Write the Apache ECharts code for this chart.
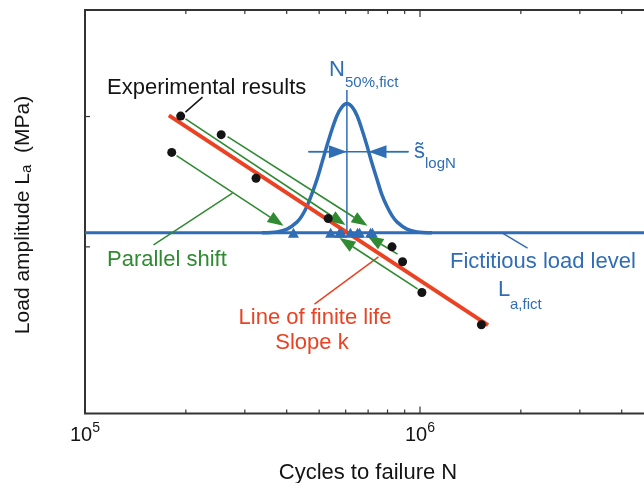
<!DOCTYPE html>
<html>
<head>
<meta charset="utf-8">
<script src="https://cdn.jsdelivr.net/npm/echarts@6/dist/echarts.min.js"></script>
<style>
  html, body { margin: 0; padding: 0; background: #fff; }
  #chart { width: 644px; height: 483px; }
</style>
</head>
<body>
<div id="chart"></div>
<script>
// experimental results (cycles to failure, load amplitude in arbitrary units)
const expCycles = [193000, 255000, 181500, 324000, 532000, 825000, 887000, 1013000, 1525000];
const expLoad = [73.7, 69.1, 64.7, 58.3, 48.3, 41.3, 37.6, 30.0, 22.0];

// results shifted onto the fictitious load level
const shiftedCycles = [419000, 541000, 575000, 583000, 620000, 651000, 660000, 712000, 721000];
const fictLoad = 44.8;

// line of finite life
const finiteCycles = [178000, 1596000];
const finiteLoad = [73.9, 21.9];

// distribution of log N on the fictitious level
const densityCycles = [337000, 374000, 401000, 430000, 445000, 460000, 475000, 492000, 509000, 527000, 546000, 565000, 585000, 605000,
  627000, 649000, 671000, 695000, 719000, 745000, 769000, 796000, 824000, 853000, 914000, 980000, 1086000];
const densityLoad = [44.8, 45.0, 45.7, 47.5, 49.1, 51.4, 54.3, 57.9, 62.0, 66.3, 70.4, 73.8, 76.0, 76.8,
  76.0, 73.8, 70.4, 66.3, 62.0, 57.9, 54.3, 51.4, 49.1, 47.5, 45.7, 45.0, 44.8];
const n50Cycles = 605000;
const n50Top = 80.2;

// scatter width marker
const sigmaLoad = 64.9;
const sigmaTailCycles = [464500, 924000];
const sigmaTipCycles = [605000, 702000];

// parallel shift arrows
const shiftFromCycles = [199500, 266400, 187600, 857000, 983000];
const shiftFromLoad = [73.0, 68.6, 63.9, 39.5, 30.9];
const shiftToCycles = [599200, 697000, 391300, 697000, 575000];
const shiftToLoad = [46.7, 46.5, 46.5, 44.0, 43.5];

// leader lines
const leaderExp = [[224300, 78.4], [199500, 74.7]];
const leaderShift = [[160200, 41.8], [275600, 54.6]];
const leaderFinite = [[484200, 27.1], [751600, 38.8]];
const leaderFict = [[1763000, 44.7], [2094000, 41.0]];

// ticks
const xMajorTicks = [100000, 1000000];
const xMinorTicks = [200000, 300000, 400000, 500000, 600000, 700000, 800000, 900000,
  2000000, 3000000, 4000000, 5000000, 6000000, 7000000, 8000000, 9000000];
const yTicks = [41.3, 73.6];

const FONT = '"Liberation Sans", Arial, sans-serif';
const BLUE = '#2f6db5';
const GREEN = '#2f8a32';
const RED = '#ea4222';
const INK = '#141414';
const FRAME = '#333333';

function zip(xs, ys) {
  return xs.map((x, i) => [x, ys[i]]);
}

function arrowSeries(name, fromX, fromY, toX, toY, color, headLen, headW, lw) {
  return {
    type: 'custom',
    name: name,
    silent: true,
    z: 4,
    data: fromX.map((x, i) => [x, fromY[i], toX[i], toY[i]]),
    encode: { x: [0, 2], y: [1, 3] },
    renderItem: function (params, api) {
      const a = api.coord([api.value(0), api.value(1)]);
      const b = api.coord([api.value(2), api.value(3)]);
      const dx = b[0] - a[0];
      const dy = b[1] - a[1];
      const len = Math.hypot(dx, dy);
      const ux = dx / len;
      const uy = dy / len;
      const bx = b[0] - ux * headLen;
      const by = b[1] - uy * headLen;
      return {
        type: 'group',
        children: [
          { type: 'line', shape: { x1: a[0], y1: a[1], x2: bx, y2: by }, style: { stroke: color, lineWidth: lw } },
          {
            type: 'polygon',
            shape: { points: [[b[0], b[1]], [bx - uy * headW / 2, by + ux * headW / 2], [bx + uy * headW / 2, by - ux * headW / 2]] },
            style: { fill: color }
          }
        ]
      };
    }
  };
}

function segment(name, pts, color, width) {
  return {
    type: 'line', name: name, data: pts, symbol: 'none', silent: true, z: 3,
    lineStyle: { color: color, width: width }
  };
}

const chart = echarts.init(document.getElementById('chart'));

const option = {
  animation: false,
  backgroundColor: '#fff',
  grid: {
    left: 85, top: 10, width: 670, bottom: 69.5,
    outerBoundsMode: 'none', containLabel: false,
    show: true, borderColor: FRAME, borderWidth: 2, backgroundColor: 'transparent'
  },
  xAxis: {
    type: 'log', logBase: 10, min: 100000, max: 10000000,
    axisLine: { show: false },
    axisTick: { show: false },
    splitLine: { show: false },
    axisLabel: {
      margin: 8,
      formatter: function (v) { return '{b|10}{s|' + Math.round(Math.log10(v)) + '}'; },
      rich: {
        b: { fontFamily: FONT, fontSize: 20, color: INK, lineHeight: 24, verticalAlign: 'bottom' },
        s: { fontFamily: FONT, fontSize: 14, color: INK, lineHeight: 14, verticalAlign: 'top' }
      }
    }
  },
  yAxis: {
    type: 'value', min: 0, max: 100,
    axisLine: { show: false },
    axisTick: { show: false },
    axisLabel: { show: false },
    splitLine: { show: false }
  },
  series: [
    segment('Fictitious load level', [[100000, fictLoad], [10000000, fictLoad]], BLUE, 3),
    {
      type: 'line', name: 'density', data: zip(densityCycles, densityLoad), smooth: 0.3,
      symbol: 'none', silent: true, z: 3, lineStyle: { color: BLUE, width: 3.5 }
    },
    segment('N50', [[n50Cycles, n50Top], [n50Cycles, fictLoad]], BLUE, 1.5),
    segment('sigma', [[sigmaTailCycles[0], sigmaLoad], [sigmaTailCycles[1], sigmaLoad]], BLUE, 1.5),
    {
      type: 'line', name: 'Line of finite life', data: zip(finiteCycles, finiteLoad),
      symbol: 'none', silent: true, z: 3, lineStyle: { color: RED, width: 4 }
    },
    arrowSeries('Parallel shift', shiftFromCycles, shiftFromLoad, shiftToCycles, shiftToLoad, GREEN, 16, 12, 1.6),
    arrowSeries('sigma arrows', sigmaTailCycles, [sigmaLoad, sigmaLoad], sigmaTipCycles, [sigmaLoad, sigmaLoad], BLUE, 18, 13, 1.5),
    segment('leader exp', leaderExp, INK, 1.5),
    segment('leader shift', leaderShift, GREEN, 1.5),
    segment('leader finite', leaderFinite, RED, 1.5),
    segment('leader fict', leaderFict, BLUE, 1.5),
    {
      type: 'scatter', name: 'Experimental results', data: zip(expCycles, expLoad),
      symbol: 'circle', symbolSize: 9, silent: true, z: 6,
      itemStyle: { color: INK, opacity: 1 }
    },
    {
      type: 'scatter', name: 'Shifted', data: shiftedCycles.map(c => [c, fictLoad]),
      symbol: 'triangle', symbolSize: [11, 10], silent: true, z: 7,
      itemStyle: { color: BLUE, opacity: 1 }
    },
    {
      type: 'custom', name: 'x ticks', silent: true, z: 8,
      data: xMinorTicks.map(v => [v, 0, 4]).concat(xMajorTicks.map(v => [v, 0, 7])),
      encode: { x: 0, y: 1 },
      renderItem: function (params, api) {
        const cs = params.coordSys;
        const x = api.coord([api.value(0), 50])[0];
        const len = api.value(2);
        const yb = cs.y + cs.height;
        return {
          type: 'group',
          children: [
            { type: 'line', shape: { x1: x, y1: yb, x2: x, y2: yb - len }, style: { stroke: FRAME, lineWidth: 1.2 } },
            { type: 'line', shape: { x1: x, y1: cs.y, x2: x, y2: cs.y + len }, style: { stroke: FRAME, lineWidth: 1.2 } }
          ]
        };
      }
    },
    {
      type: 'custom', name: 'y ticks', silent: true, z: 8,
      data: yTicks.map(v => [100000, v]),
      encode: { x: 0, y: 1 },
      renderItem: function (params, api) {
        const cs = params.coordSys;
        const y = api.coord([1000000, api.value(1)])[1];
        return { type: 'line', shape: { x1: cs.x, y1: y, x2: cs.x + 5, y2: y }, style: { stroke: FRAME, lineWidth: 1.2 } };
      }
    }
  ],
  graphic: [
    { type: 'text', x: 107, y: 88, style: { text: 'Experimental results', font: '22px ' + FONT, fill: INK, align: 'left', verticalAlign: 'middle' } },
    { type: 'text', x: 329, y: 70, style: { text: 'N', font: '22px ' + FONT, fill: BLUE, align: 'left', verticalAlign: 'middle' } },
    { type: 'text', x: 345, y: 83, style: { text: '50%,fict', font: '15px ' + FONT, fill: BLUE, align: 'left', verticalAlign: 'middle' } },
    { type: 'text', x: 414, y: 152, style: { text: 's\u0303', font: '22px ' + FONT, fill: BLUE, align: 'left', verticalAlign: 'middle' } },
    { type: 'text', x: 425, y: 164, style: { text: 'logN', font: '15px ' + FONT, fill: BLUE, align: 'left', verticalAlign: 'middle' } },
    { type: 'text', x: 107, y: 260, style: { text: 'Parallel shift', font: '22px ' + FONT, fill: GREEN, align: 'left', verticalAlign: 'middle' } },
    { type: 'text', x: 450, y: 262, style: { text: 'Fictitious load level', font: '22px ' + FONT, fill: BLUE, align: 'left', verticalAlign: 'middle' } },
    { type: 'text', x: 498, y: 290, style: { text: 'L', font: '22px ' + FONT, fill: BLUE, align: 'left', verticalAlign: 'middle' } },
    { type: 'text', x: 510, y: 305, style: { text: 'a,fict', font: '15px ' + FONT, fill: BLUE, align: 'left', verticalAlign: 'middle' } },
    { type: 'text', x: 315, y: 318, style: { text: 'Line of finite life', font: '22px ' + FONT, fill: RED, align: 'center', verticalAlign: 'middle' } },
    { type: 'text', x: 312, y: 343, style: { text: 'Slope k', font: '22px ' + FONT, fill: RED, align: 'center', verticalAlign: 'middle' } },
    { type: 'text', x: 368, y: 473, style: { text: 'Cycles to failure N', font: '22px ' + FONT, fill: INK, align: 'center', verticalAlign: 'middle' } },
    {
      type: 'text', x: 23, y: 215, rotation: Math.PI / 2,
      style: {
        text: '{m|Load amplitude L}{s|a}{m|  (MPa)}', align: 'center', verticalAlign: 'middle',
        rich: {
          m: { fontFamily: FONT, fontSize: 21, fill: INK, lineHeight: 22, verticalAlign: 'middle' },
          s: { fontFamily: FONT, fontSize: 15, fill: INK, lineHeight: 16, verticalAlign: 'bottom' }
        }
      }
    }
  ]
};

chart.setOption(option);
</script>
</body>
</html>
